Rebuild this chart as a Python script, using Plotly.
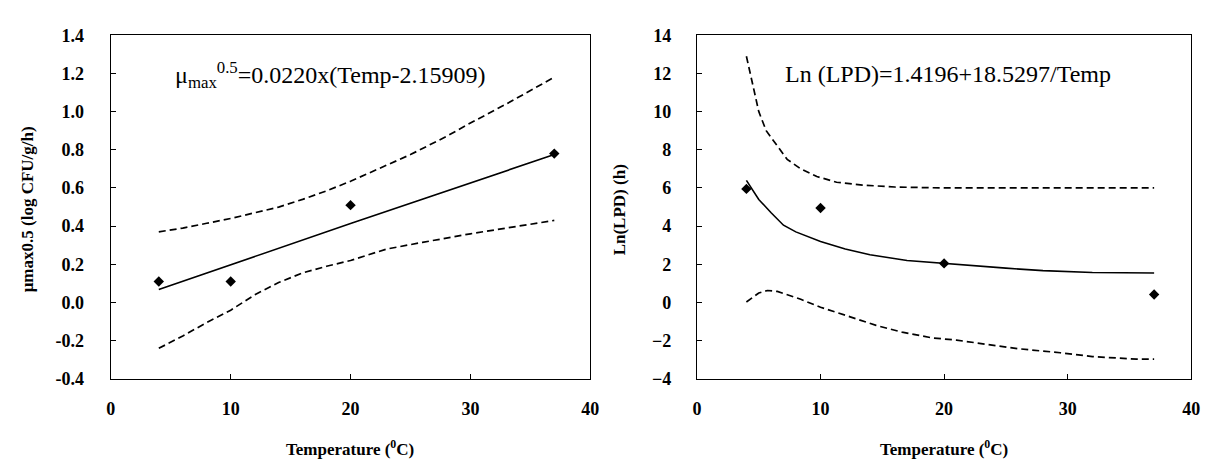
import plotly.graph_objects as go

# ---------------- data ----------------
# Left panel: mu_max^0.5 vs temperature
temp_obs = [4, 10, 20, 37]
mu_obs = [0.11, 0.11, 0.51, 0.78]

mu_fit_x = [4, 10, 20, 37]
mu_fit_y = [0.068, 0.198, 0.414, 0.775]

mu_up_x = [4, 6, 8, 10, 12, 14, 16, 18, 20, 22, 25, 28, 30, 33, 37]
mu_up_y = [0.37, 0.39, 0.415, 0.44, 0.47, 0.50, 0.54, 0.585, 0.635, 0.69, 0.775, 0.87, 0.94, 1.04, 1.18]

mu_lo_x = [4, 6, 8, 10, 12, 14, 16, 18, 20, 23, 26, 30, 34, 37]
mu_lo_y = [-0.24, -0.175, -0.105, -0.04, 0.04, 0.105, 0.155, 0.19, 0.22, 0.28, 0.315, 0.36, 0.40, 0.43]

# Right panel: Ln(LPD) vs temperature
lpd_obs = [5.95, 4.95, 2.05, 0.42]

lpd_fit_x = [4, 5, 6, 7, 8, 10, 12, 14, 17, 20, 22, 25, 28, 32, 37]
lpd_fit_y = [6.4, 5.4, 4.7, 4.05, 3.7, 3.2, 2.8, 2.5, 2.2, 2.05, 1.92, 1.8, 1.67, 1.57, 1.55]

lpd_up_x = [4, 4.5, 5, 5.6, 6.4, 7.3, 8.4, 9.7, 11.3, 13.4, 16, 20, 37]
lpd_up_y = [12.9, 11.5, 10.0, 9.0, 8.3, 7.5, 7.0, 6.6, 6.3, 6.15, 6.05, 6.0, 6.0]

lpd_lo_x = [4, 5, 5.7, 6.5, 8.4, 10, 12.4, 14.5, 16.6, 19, 21, 23.6, 26, 29.4, 32, 35.6, 37]
lpd_lo_y = [0.03, 0.5, 0.63, 0.58, 0.17, -0.25, -0.75, -1.2, -1.55, -1.85, -1.97, -2.22, -2.42, -2.63, -2.83, -2.97, -2.97]

x_ticks = [0, 10, 20, 30, 40]
left_y_ticks = [-0.4, -0.2, 0.0, 0.2, 0.4, 0.6, 0.8, 1.0, 1.2, 1.4]
left_y_labels = ["-0.4", "-0.2", "0.0", "0.2", "0.4", "0.6", "0.8", "1.0", "1.2", "1.4"]
right_y_ticks = [-4, -2, 0, 2, 4, 6, 8, 10, 12, 14]

left_eq = "μ<sub>max</sub><sup>0.5</sup>=0.0220x(Temp-2.15909)"
right_eq = "Ln (LPD)=1.4196+18.5297/Temp"
left_ytitle = "<b>μmax0.5 (log CFU/g/h)</b>"
right_ytitle = "<b>Ln(LPD) (h)</b>"
xtitle = "<b>Temperature (<sup>0</sup>C)</b>"

# ---------------- figure ----------------
W, H = 1209, 468
SERIF = "Liberation Serif"
fig = go.Figure()

def add_panel(xa, ya, obs_y, fx, fy, ux, uy, lx, ly):
    line = dict(color="black", width=1.6)
    dline = dict(color="black", width=1.7, dash="7px,4px")
    fig.add_trace(go.Scatter(x=ux, y=uy, mode="lines", line=dline, xaxis=xa, yaxis=ya, showlegend=False))
    fig.add_trace(go.Scatter(x=lx, y=ly, mode="lines", line=dline, xaxis=xa, yaxis=ya, showlegend=False))
    fig.add_trace(go.Scatter(x=fx, y=fy, mode="lines", line=line, xaxis=xa, yaxis=ya, showlegend=False))
    fig.add_trace(go.Scatter(x=temp_obs, y=obs_y, mode="markers",
                             marker=dict(symbol="diamond", size=8, color="black"),
                             xaxis=xa, yaxis=ya, showlegend=False))

add_panel("x", "y", mu_obs, mu_fit_x, mu_fit_y, mu_up_x, mu_up_y, mu_lo_x, mu_lo_y)
add_panel("x2", "y2", lpd_obs, lpd_fit_x, lpd_fit_y, lpd_up_x, lpd_up_y, lpd_lo_x, lpd_lo_y)

ytop, ybot = 18, 377
ydom = [1 - ybot / H, 1 - ytop / H]
tickfont = dict(family=SERIF, size=18, color="black", weight="bold")

common_axis = dict(showline=True, linecolor="black", linewidth=1.3, mirror=True,
                   ticks="inside", ticklen=5, tickcolor="black", showgrid=False,
                   zeroline=False, tickfont=tickfont)

fig.update_layout(
    width=W, height=H, margin=dict(l=0, r=0, t=0, b=0),
    paper_bgcolor="white", plot_bgcolor="white",
    font=dict(family=SERIF, color="black"),
    xaxis=dict(domain=[99 / W, 584 / W], range=[0, 40], tickvals=x_ticks,
               ticklabelstandoff=13, anchor="y", **common_axis),
    yaxis=dict(domain=ydom, range=[-0.4, 1.4], tickvals=left_y_ticks, ticktext=left_y_labels,
               ticklabelstandoff=22, anchor="x", **common_axis),
    xaxis2=dict(domain=[692 / W, 1192 / W], range=[0, 40], tickvals=x_ticks,
                ticklabelstandoff=13, anchor="y2", **common_axis),
    yaxis2=dict(domain=ydom, range=[-4, 14], tickvals=right_y_ticks,
                ticklabelstandoff=21, anchor="x2", **common_axis),
)

ann_font = dict(family=SERIF, size=24, color="black")
title_font = dict(family=SERIF, size=17, color="black")
fig.add_annotation(text=left_eq, x=321 / W, y=1 - 60 / H, xref="paper", yref="paper",
                   showarrow=False, font=ann_font, xanchor="center", yanchor="middle")
fig.add_annotation(text=right_eq, x=946 / W, y=1 - 58 / H, xref="paper", yref="paper",
                   showarrow=False, font=ann_font, xanchor="center", yanchor="middle")
fig.add_annotation(text=left_ytitle, x=15 / W, y=1 - 200 / H, xref="paper", yref="paper",
                   showarrow=False, font=title_font, textangle=-90, xanchor="center", yanchor="middle")
fig.add_annotation(text=right_ytitle, x=614 / W, y=1 - 200 / H, xref="paper", yref="paper",
                   showarrow=False, font=title_font, textangle=-90, xanchor="center", yanchor="middle")
fig.add_annotation(text=xtitle, x=341 / W, y=1 - 449 / H, xref="paper", yref="paper",
                   showarrow=False, font=title_font, xanchor="center", yanchor="middle")
fig.add_annotation(text=xtitle, x=942 / W, y=1 - 449 / H, xref="paper", yref="paper",
                   showarrow=False, font=title_font, xanchor="center", yanchor="middle")

fig.write_html("out.html")
